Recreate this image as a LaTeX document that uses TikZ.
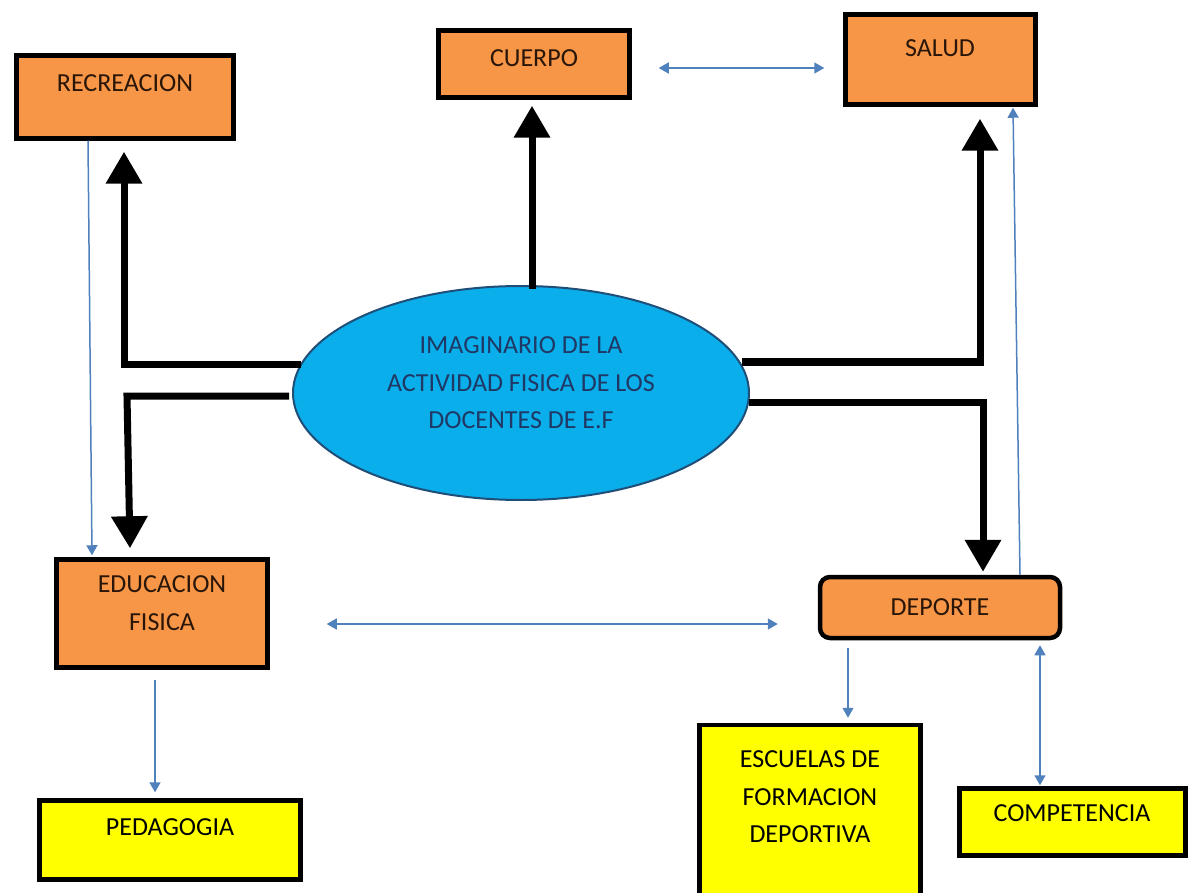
\documentclass[tikz,border=0pt]{standalone}
\usepackage{fontspec}
\setmainfont{Carlito}
\usetikzlibrary{arrows.meta,shapes.geometric,calc}
\definecolor{boxorange}{HTML}{F79646}
\definecolor{boxyellow}{HTML}{FFFF00}
\definecolor{ellblue}{HTML}{0AAEEB}
\definecolor{ellborder}{HTML}{1F4E79}
\definecolor{linkblue}{HTML}{4F81BD}
\definecolor{txtdark}{HTML}{2A1608}
\definecolor{txtnavy}{HTML}{1F3864}
\begin{document}
\begin{tikzpicture}[x=1pt,y=-1pt,
  obox/.style={draw=black,line width=4.5pt,fill=boxorange,inner sep=0pt},
  ybox/.style={draw=black,line width=4.5pt,fill=boxyellow,inner sep=0pt},
  lbl/.style={font=\fontsize{26}{37.5}\selectfont,align=center,inner sep=0pt,text=txtdark},
  bigarrow/.style={line width=7pt,-{Triangle[width=35pt,length=32pt]}},
  link/.style={draw=linkblue,line width=1.5pt,-{Triangle[width=11pt,length=10pt]}},
  biglink/.style={draw=linkblue,line width=1.5pt,{Triangle[width=11pt,length=10pt]}-{Triangle[width=11pt,length=10pt]}}
]
\useasboundingbox (0,0) rectangle (1189,893);
\fill[white] (0,0) rectangle (1189,893);

% boxes
\node[obox,minimum width=217pt,minimum height=83pt] (rec) at (125,97) {};
\node[lbl] (recT) at (125,83) {RECREACION};
\node[obox,minimum width=191pt,minimum height=67pt] (cue) at (534,64) {};
\node[lbl] (cueT) at (534,58) {CUERPO};
\node[obox,minimum width=190pt,minimum height=90pt] (sal) at (940.5,59.5) {};
\node[lbl] (salT) at (940,48) {SALUD};
\node[obox,minimum width=211pt,minimum height=108pt] (edu) at (162,613.5) {};
\node[lbl] (eduT) at (162,603) {EDUCACION\\FISICA};
\node[obox,rounded corners=10pt,minimum width=240pt,minimum height=61pt] (dep) at (940,607.5) {};
\node[lbl] (depT) at (940,607) {DEPORTE};
\node[ybox,minimum width=261pt,minimum height=79pt] (ped) at (170,840) {};
\node[lbl,text=black] (pedT) at (170,827) {PEDAGOGIA};
\node[ybox,minimum width=221pt,minimum height=176pt] (esc) at (810,813) {};
\node[lbl,text=black] (escT) at (810,797) {ESCUELAS DE\\FORMACION\\DEPORTIVA};
\node[ybox,minimum width=226pt,minimum height=67pt] (com) at (1072.5,822) {};
\node[lbl,text=black] (comT) at (1072,813) {COMPETENCIA};

% central ellipse
\node[ellipse,draw=ellborder,line width=2pt,fill=ellblue,minimum width=456pt,minimum height=214pt,inner sep=0pt] (ell) at (521,393) {};
\node[lbl,text=txtnavy] (ellT) at (521,383) {IMAGINARIO DE LA\\ACTIVIDAD FISICA DE LOS\\DOCENTES DE E.F};

% thick black arrows
\draw[bigarrow] ($(ell.north)+(11,4)$) -- ($(cue.south)+(-2,6)$);
\draw[bigarrow] ($(ell.west)+(9,-29)$) -| ($(rec.south)+(-1,11)$);
\draw[bigarrow] ($(ell.west)+(-3,3)$) -- (127,396) -- ($(edu.north)+(-32,-9)$);
\draw[bigarrow] ($(ell.east)+(-8,-31)$) -| ($(sal.south)+(39.5,12)$);
\draw[bigarrow] ($(ell.east)+(-1,9)$) -| ($(dep.north)+(43,-3)$);

% thin blue links
\draw[link] ($(rec.south)+(-37,0)$) -- ($(edu.north)+(-70,-2)$);
\draw[biglink] ($(cue.east)+(27,4)$) -- ($(sal.west)+(-19,8.5)$);
\draw[biglink] ($(edu.east)+(57,10.5)$) -- ($(dep.west)+(-40,16.5)$);
\draw[link] ($(edu.south)+(-7,10)$) -- ($(ped.north)+(-15,-6)$);
\draw[link] ($(dep.south)+(-92,8)$) -- ($(esc.north)+(38,-5)$);
\draw[biglink] ($(dep.south)+(100,5)$) -- ($(com.north)+(-32.5,-1)$);
\draw[link] ($(dep.north)+(80,0)$) -- ($(sal.south)+(72.5,1)$);
\end{tikzpicture}
\end{document}
